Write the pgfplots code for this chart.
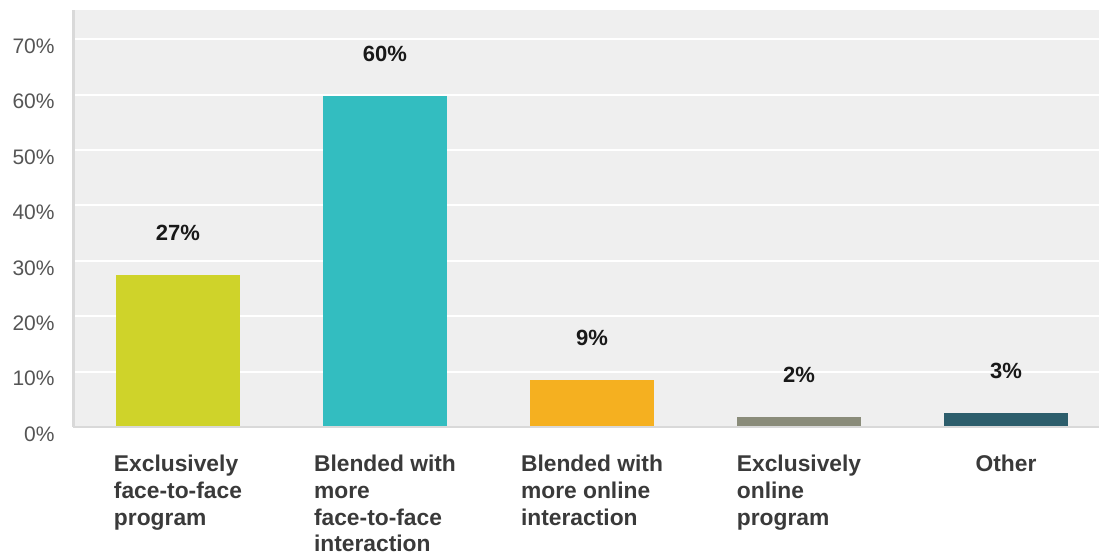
\documentclass[border=0pt]{standalone}
\usepackage{pgfplots}
\pgfplotsset{compat=1.18}
\usepackage{fontspec}
\setmainfont{Liberation Sans}
\definecolor{bgc}{HTML}{EFEFEF}
\definecolor{cA}{HTML}{CFD32A}
\definecolor{cB}{HTML}{33BDC0}
\definecolor{cC}{HTML}{F5B020}
\definecolor{cD}{HTML}{8A8C7A}
\definecolor{cE}{HTML}{2D5E6C}
\definecolor{axl}{HTML}{D9D9D9}
\definecolor{tickc}{HTML}{555555}
\definecolor{catc}{HTML}{3A3A3A}
\begin{document}
\begin{tikzpicture}
\begin{axis}[
  name=ax,
  at={(0,0)}, anchor=south west,
  width=513bp, height=208.5bp, scale only axis,
  xmin=-0.507, xmax=4.449, ymin=0, ymax=75.3,
  ybar, bar width=62bp,
  axis background/.style={fill=bgc},
  axis line style={draw=none},
  axis x line*=bottom, axis y line*=left,
  ymajorgrids, grid style={white, line width=1bp},
  major tick length=0pt,
  ytick={0,10,20,30,40,50,60,70},
  yticklabels={0\%,10\%,20\%,30\%,40\%,50\%,60\%,70\%},
  yticklabel style={anchor=east, inner sep=0pt, xshift=-9bp, yshift=-3.5bp, font=\fontsize{10.5bp}{12bp}\selectfont, text=tickc},
  xtick={0,1,2,3,4},
  xticklabels={{Exclusively\\face-to-face\\program},{Blended with\\more\\face-to-face\\interaction},{Blended with\\more online\\interaction},{Exclusively\\online\\program},{Other}},
  xticklabel style={anchor=north, align=left, inner sep=0pt, yshift=-14bp, font=\fontsize{11.4bp}{13.3bp}\selectfont\bfseries, text=catc},
  point meta=explicit symbolic,
  nodes near coords,
  nodes near coords style={anchor=center, yshift=21bp, font=\fontsize{11bp}{13bp}\selectfont\bfseries, text=black!90},
  clip=false,
]
\addplot[fill=cA, draw=none, bar shift=0pt] coordinates {(0,27.4) [27\%]};
\addplot[fill=cB, draw=none, bar shift=0pt] coordinates {(1,59.8) [60\%]};
\addplot[fill=cC, draw=none, bar shift=0pt] coordinates {(2,8.5) [9\%]};
\addplot[fill=cD, draw=none, bar shift=0pt] coordinates {(3,1.8) [2\%]};
\addplot[fill=cE, draw=none, bar shift=0pt] coordinates {(4,2.5) [3\%]};
\draw[axl, line width=1.5bp] (rel axis cs:0,0) -- (rel axis cs:0,1);
\draw[axl, line width=1bp] (rel axis cs:0,0) -- (rel axis cs:1,0);
\end{axis}
\pgfresetboundingbox
\path[use as bounding box] (ax.south west) ++(-36.5bp,-64bp) rectangle ([yshift=5bp]ax.north east);
\end{tikzpicture}
\end{document}
